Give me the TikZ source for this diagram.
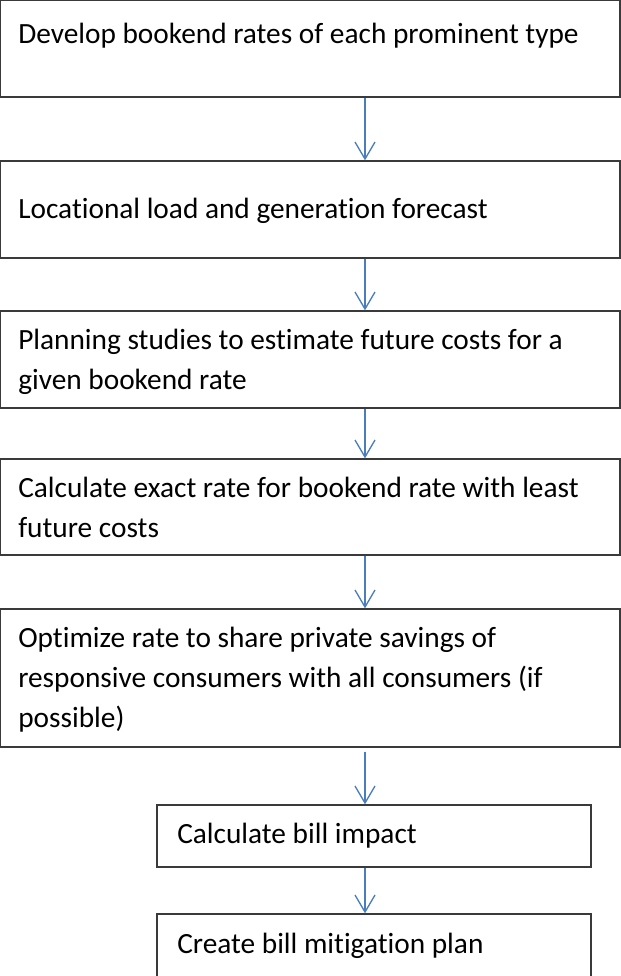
\documentclass[tikz,border=0pt]{standalone}
\usepackage{fontspec}
\setmainfont{Carlito}[Ligatures=NoCommon]
\usetikzlibrary{arrows.meta,fit,calc}
\definecolor{arrowblue}{HTML}{4A7EBB}
\definecolor{boxline}{HTML}{3A3A3A}
\begin{document}
\begin{tikzpicture}[x=0.75pt,y=-0.75pt,
  box/.style={draw=boxline,line width=1pt,inner sep=0pt,rectangle},
  txt/.style={anchor=base west,inner sep=0pt,align=left,font=\fontsize{22pt}{30pt}\selectfont},
  arr/.style={draw=arrowblue,line width=1pt,-{Straight Barb[length=12.75pt,width=15pt,line width=1pt]}}]
\useasboundingbox (0,0) rectangle (621,976);
\clip (0,0) rectangle (621,976);
\coordinate (ax) at (365,0);
\node[box,fit={(0.5,0.7) (620,97)}] (b1) {};
\node[box,fit={(0.5,161) (620,258)}] (b2) {};
\node[box,fit={(0.5,311) (620,408)}] (b3) {};
\node[box,fit={(0.5,459) (620,555)}] (b4) {};
\node[box,fit={(0.5,609) (620,747)}] (b5) {};
\node[box,fit={(157,805) (591,867)}] (b6) {};
\node[box,fit={(157,914) (591,1000)}] (b7) {};
\node[txt] (t1) at (18,43) {Develop bookend rates of each prominent type};
\node[txt] (t2) at (18,218) {Locational load and generation forecast};
\node[txt] (t3) at (18,389) {Planning studies to estimate future costs for a\\given bookend rate};
\node[txt] (t4) at (18,537) {Calculate exact rate for bookend rate with least\\future costs};
\node[txt] (t5) at (18,727) {Optimize rate to share private savings of\\responsive consumers with all consumers (if\\possible)};
\node[txt] (t6) at (177,843) {Calculate bill impact};
\node[txt] (t7) at (177,953) {Create bill mitigation plan};
\draw[arr] (b1.south -| ax) -- (b2.north -| ax);
\draw[arr] (b2.south -| ax) -- (b3.north -| ax);
\draw[arr] (b3.south -| ax) -- (b4.north -| ax);
\draw[arr] (b4.south -| ax) -- (b5.north -| ax);
\draw[arr] ($(b5.south -| ax)+(0,4)$) -- (b6.north -| ax);
\draw[arr] (b6.south -| ax) -- (b7.north -| ax);
\end{tikzpicture}
\end{document}
